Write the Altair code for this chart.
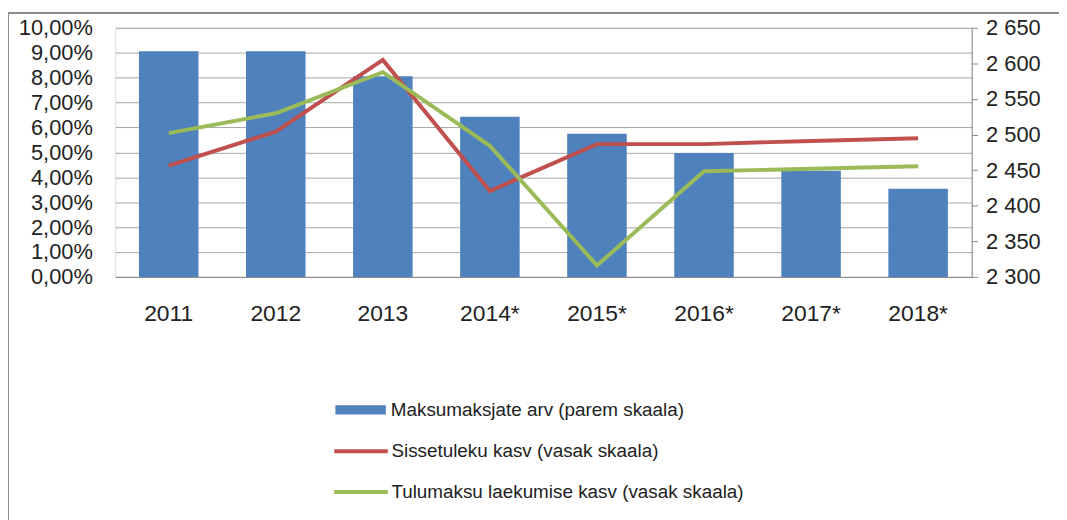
import altair as alt
import pandas as pd

years = ["2011", "2012", "2013", "2014*", "2015*", "2016*", "2017*", "2018*"]
taxpayers = [2617, 2617, 2582, 2525, 2501, 2474, 2449, 2424]
income_growth = [0.0447, 0.0583, 0.0871, 0.0345, 0.0533, 0.0533, 0.0546, 0.0557]
tax_growth = [0.0577, 0.0657, 0.0822, 0.0526, 0.0046, 0.0424, 0.0434, 0.0444]
bar_name = "Maksumaksjate arv (parem skaala)"
line_names = ["Sissetuleku kasv (vasak skaala)", "Tulumaksu laekumise kasv (vasak skaala)"]
left_ticks = [0.0, 0.01, 0.02, 0.03, 0.04, 0.05, 0.06, 0.07, 0.08, 0.09, 0.10]
right_ticks = [2300, 2350, 2400, 2450, 2500, 2550, 2600, 2650]

FONT = "Liberation Sans"
TXT = "#222222"

bars_df = pd.DataFrame({"year": years, "taxpayers": taxpayers, "name": [bar_name] * len(years)})
lines_df = pd.DataFrame({
    "year": years + years,
    "pct": income_growth + tax_growth,
    "series": [line_names[0]] * len(years) + [line_names[1]] * len(years),
})

xenc = alt.X(
    "year:N", sort=years,
    scale=alt.Scale(paddingInner=0.444, paddingOuter=0.222),
    axis=alt.Axis(title=None, labelAngle=0, labelFontSize=23, labelPadding=26,
                  domainColor="#888888", domainWidth=1, ticks=False, labelColor=TXT,
                  labelFont=FONT),
)

frame = alt.Chart(alt.Data(values=[{"f": 1}])).mark_rect(
    fill="transparent", stroke="#8c8c8c", strokeWidth=2
).encode(x=alt.value(-108), x2=alt.value(1300), y=alt.value(-15), y2=alt.value(800))

bars = alt.Chart(bars_df).mark_bar(color="#4f81bd").encode(
    x=xenc,
    y=alt.Y("taxpayers:Q",
            scale=alt.Scale(domain=[2300, 2650], zero=False, clamp=True, nice=False),
            axis=alt.Axis(orient="right", title=None, values=right_ticks,
                          labelExpr="replace(format(datum.value, ','), ',', ' ')",
                          grid=False, domain=True, domainColor="#888888", ticks=True,
                          tickSize=6, tickColor="#888888", labelPadding=8,
                          labelFontSize=22, labelColor=TXT, labelFont=FONT)),
    fill=alt.Fill("name:N", scale=alt.Scale(domain=[bar_name], range=["#4f81bd"]),
                  legend=alt.Legend(title=None, orient="none", legendX=221.7, legendY=375,
                                    symbolType="M-1,-0.18H1V0.18H-1Z", symbolSize=2601,
                                    symbolStrokeWidth=0, labelFontSize=19, labelOffset=5,
                                    clipHeight=20, padding=0, labelLimit=600,
                                    labelColor=TXT, labelFont=FONT)),
)

lines = alt.Chart(lines_df).mark_line(strokeWidth=4).encode(
    x=xenc,
    y=alt.Y("pct:Q", scale=alt.Scale(domain=[0, 0.10], nice=False),
            axis=alt.Axis(orient="left", title=None, values=left_ticks,
                          labelExpr="replace(format(datum.value, '.2%'), '.', ',')",
                          grid=True, gridColor="#a6a6a6", gridWidth=1, domain=False,
                          ticks=False, tickSize=0, labelPadding=23, labelFontSize=22,
                          labelColor=TXT, labelFont=FONT)),
    stroke=alt.Stroke("series:N", scale=alt.Scale(domain=line_names, range=["#c0504d", "#9bbb59"]),
                      legend=alt.Legend(title=None, orient="none", legendX=218.7, legendY=416.7,
                                        symbolType="stroke", symbolSize=2916,
                                        symbolStrokeWidth=4, labelFontSize=19, labelOffset=1.6,
                                        clipHeight=20, rowPadding=21, padding=0, labelLimit=600,
                                        labelColor=TXT, labelFont=FONT)),
)

chart = alt.layer(frame, bars, lines).resolve_scale(y="independent").properties(
    width=863, height=251,
    padding={"left": 108, "top": 18, "right": 88, "bottom": 243},
    autosize=alt.AutoSizeParams(type="none"),
).configure_view(stroke=None).configure(font=FONT)

chart.save("out.html", embed_options={"renderer": "svg", "actions": False})
